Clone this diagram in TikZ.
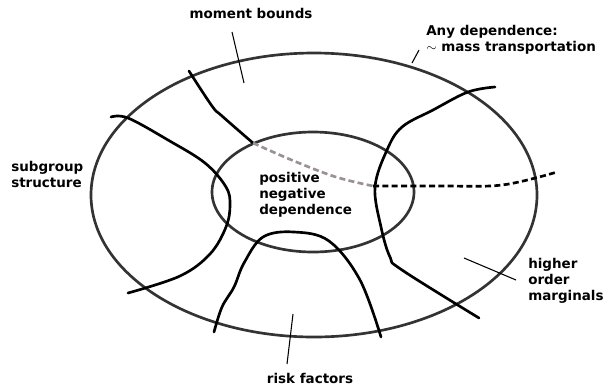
\documentclass[tikz,border=0pt]{standalone}
\usepackage{fontspec}
\setmainfont{DejaVu Sans}
\usepackage{amssymb}

\tikzset{
  lbl/.style={font=\bfseries\fontsize{10.1}{12}\selectfont, align=left, inner sep=0.75pt},
  ring/.style={draw={rgb, 255:red, 51; green, 51; blue, 51}, line width=2pt},
  cut/.style={line width=2pt, line join=round, line cap=round},
  pointer/.style={line width=0.8pt}
}

\begin{document}
\begin{tikzpicture}[x=0.75pt,y=0.75pt,yscale=-1,xscale=1]
\useasboundingbox (0,0) rectangle (605,390);

%Shape: Ellipse [id:outer]
\draw [ring] (314,195) ellipse [x radius=167.25pt, y radius=106.5pt];
%Shape: Ellipse [id:inner]
\draw [ring] (313,192) ellipse [x radius=75.75pt, y radius=45pt];

%Curve Lines [id:subgroup]
\draw [cut] plot [smooth, tension=0.6] coordinates {(111,117) (128,118) (168,140) (205,163) (226,187) (230,205) (226,227) (210,254) (180,276) (128,293)};
%Curve Lines [id:moment]
\draw [cut] plot [smooth, tension=0.6] coordinates {(189,71) (212,106) (222,116) (253,143)};
%Curve Lines [id:gray dashed]
\draw [cut, line cap=butt, draw={rgb, 255:red, 155; green, 145; blue, 145}, dash pattern=on 4.5pt off 2.5pt] plot [smooth, tension=0.6] coordinates {(253,143) (294,161) (336,177) (373,186)};
%Curve Lines [id:black dashed]
\draw [cut, line cap=butt, dash pattern=on 4.5pt off 2.5pt] plot [smooth, tension=0.6] coordinates {(373,186) (440,186) (502,185) (557,172)};
%Curve Lines [id:marginals]
\draw [cut] plot [smooth, tension=0.6] coordinates {(495,87) (468,92) (433,110) (402,127) (387,150) (375,187) (381,227) (390,257) (402,270) (479,318)};
%Curve Lines [id:risk]
\draw [cut] plot [smooth, tension=0.6] coordinates {(214,332) (222,307) (234,287) (244,263) (263,237) (294,232) (329,241) (360,280) (381,337)};

% Text Node
\node [lbl] (moment) at (251,13) {moment bounds};
% Text Node
\node [lbl, anchor=west] (anydep) at (425,40) {Any dependence:\\$\sim$ mass transportation};
% Text Node
\node [lbl, anchor=west] (subgroup) at (10,174) {subgroup\\structure};
% Text Node
\node [lbl, anchor=west] (posneg) at (258,195) {positive\\negative\\dependence};
% Text Node
\node [lbl, anchor=west] (higher) at (527,281) {higher\\order\\marginals};
% Text Node
\node [lbl] (risk) at (310,378) {risk factors};

%Straight Lines [id:pointers]
\coordinate (momentA) at (232,32);
\coordinate (momentB) at (244,83);
\draw [pointer] (momentA) -- (momentB);
\coordinate (anydepA) at (419,50);
\coordinate (anydepB) at (412,63);
\draw [pointer] (anydepA) -- (anydepB);
\coordinate (higherA) at (516,280);
\coordinate (higherB) at (464,258);
\draw [pointer] (higherA) -- (higherB);
\coordinate (riskA) at (287,364);
\coordinate (riskB) at (293,314);
\draw [pointer] (riskA) -- (riskB);

\end{tikzpicture}
\end{document}
